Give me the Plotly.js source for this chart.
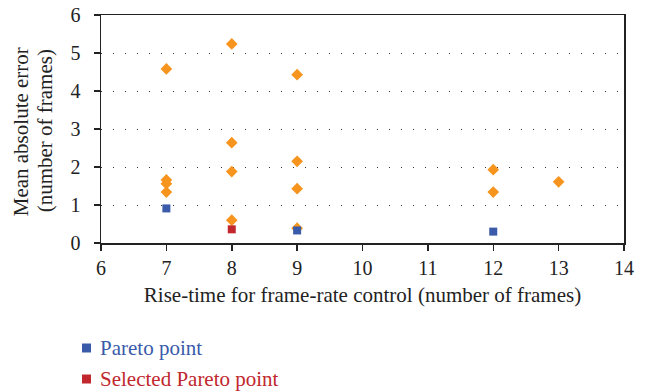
<!DOCTYPE html>
<html><head><meta charset="utf-8">
<script src="https://cdn.plot.ly/plotly-3.0.1.min.js"></script>
<style>body{margin:0;padding:0;background:#fff}#c{width:646px;height:392px}</style>
</head><body><div id="c"></div>
<script>
const otherX = [7, 7, 7, 7, 8, 8, 8, 8, 9, 9, 9, 9, 12, 12, 13];
const otherY = [4.58, 1.66, 1.56, 1.34, 5.24, 2.64, 1.88, 0.6, 4.43, 2.15, 1.43, 0.39, 1.93, 1.34, 1.61];
const paretoX = [7, 9, 12];
const paretoY = [0.91, 0.33, 0.3];
const selectedX = [8];
const selectedY = [0.36];
const xTicks = [6, 7, 8, 9, 10, 11, 12, 13, 14];
const yTicks = [0, 1, 2, 3, 4, 5, 6];
const legendNames = ['Pareto point', 'Selected Pareto point'];
const legendColors = ['#3a5ba9', '#c1272d'];
const yTitleLines = ['Mean absolute error', '(number of frames)'];

const font = "'Liberation Serif', 'DejaVu Serif', serif";
const data = [
  {x: otherX, y: otherY, type: 'scatter', mode: 'markers', showlegend: false,
   marker: {symbol: 'diamond', size: 9, color: '#f7941e'}},
  {x: paretoX, y: paretoY, type: 'scatter', mode: 'markers', showlegend: false,
   marker: {symbol: 'square', size: 8, color: legendColors[0]}},
  {x: selectedX, y: selectedY, type: 'scatter', mode: 'markers', showlegend: false,
   marker: {symbol: 'square', size: 8, color: legendColors[1]}}
];
// plot area: 523 x 228 px
const legY = [-0.4605, -0.5965];
const shapes = legendNames.map((n, i) => ({type: 'rect', xref: 'paper', yref: 'paper',
  x0: -0.0363, x1: -0.0191, y0: legY[i] - 0.0197, y1: legY[i] + 0.0197,
  fillcolor: legendColors[i], line: {width: 0}}));
const annotations = legendNames.map((n, i) => ({xref: 'paper', yref: 'paper', x: -0.006, y: legY[i],
  xanchor: 'left', yanchor: 'middle', text: n, showarrow: false,
  font: {family: font, size: 21, color: legendColors[i]}}));
const yTitleX = [-0.153, -0.107];
yTitleLines.forEach((t, i) => annotations.push({xref: 'paper', yref: 'paper', x: yTitleX[i], y: 0.49,
  xanchor: 'center', yanchor: 'middle', textangle: -90, text: t, showarrow: false,
  font: {family: font, size: 21, color: '#222'}}));
const layout = {
  width: 646, height: 392,
  margin: {l: 101, r: 22, t: 15, b: 149},
  paper_bgcolor: '#fff', plot_bgcolor: '#fff',
  font: {family: font, size: 20, color: '#222'},
  showlegend: false,
  shapes: shapes, annotations: annotations,
  xaxis: {range: [6, 14], tickvals: xTicks, ticktext: xTicks.map(String),
    showgrid: false, zeroline: false, showline: true, linecolor: '#222', linewidth: 1.5, mirror: true,
    ticks: 'outside', ticklen: 6, tickcolor: '#222', tickwidth: 1.5, automargin: false,
    title: {text: 'Rise-time for frame-rate control (number of frames)', font: {size: 21}, standoff: 10}},
  yaxis: {range: [0, 6], tickvals: yTicks, ticktext: yTicks.map(String),
    showgrid: true, gridcolor: '#333', griddash: '1px,11px', gridwidth: 1,
    zeroline: false, showline: true, linecolor: '#222', linewidth: 1.5, mirror: true,
    ticks: 'outside', ticklen: 6, tickcolor: '#222', tickwidth: 1.5, ticklabelstandoff: 9, automargin: false}
};
Plotly.newPlot('c', data, layout, {staticPlot: true, displayModeBar: false});
</script></body></html>
